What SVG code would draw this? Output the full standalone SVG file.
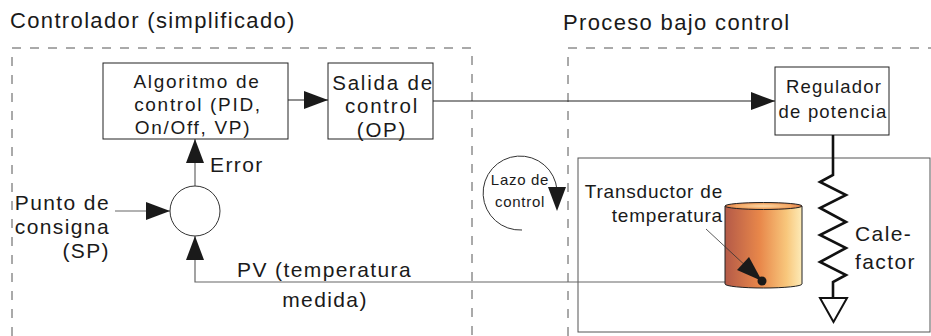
<svg xmlns="http://www.w3.org/2000/svg" width="931" height="336" viewBox="0 0 931 336">
  <defs>
    <style>
      text { font-family: "Liberation Sans", Arial, sans-serif; fill: #1a1a1a; }
      .title { font-size: 22px; letter-spacing: 1.35px; }
      .lbl { font-size: 21px; letter-spacing: 1.4px; }
      .out { font-size: 20.5px; letter-spacing: 1.8px; }
      .alg { font-size: 19px; letter-spacing: 1.7px; }
      .reg { font-size: 18.5px; letter-spacing: 1.2px; }
      .trans { font-size: 19px; letter-spacing: 0.8px; }
      .tiny { font-size: 15px; letter-spacing: 0.7px; }
      .dash { fill: none; stroke: #555; stroke-width: 1; stroke-dasharray: 9 9; }
      .box { fill: #fff; stroke: #222; stroke-width: 1; }
      .wire { fill: none; stroke: #666; stroke-width: 1.2; }
      .wire-dark { fill: none; stroke: #222; stroke-width: 1.2; }
      .heater { fill: none; stroke: #111; stroke-width: 2.6; stroke-linejoin: miter; }
    </style>
    <marker id="arrow" viewBox="0 0 24 18" refX="24" refY="9" markerWidth="24" markerHeight="18" markerUnits="userSpaceOnUse" orient="auto">
      <path d="M0,0 L24,9 L0,18 Z" fill="#1a1a1a"/>
    </marker>
    <linearGradient id="cylBody" x1="0" y1="0" x2="1" y2="0">
      <stop offset="0" stop-color="#b45a48"/>
      <stop offset="0.45" stop-color="#e8874a"/>
      <stop offset="0.8" stop-color="#f8c77c"/>
      <stop offset="1" stop-color="#fdebb8"/>
    </linearGradient>
    <radialGradient id="cylTop" cx="0.5" cy="0.5" r="0.5">
      <stop offset="0" stop-color="#fbd9a8"/>
      <stop offset="0.7" stop-color="#f3a865"/>
      <stop offset="1" stop-color="#de7c48"/>
    </radialGradient>
  </defs>

  <!-- section titles -->
  <text class="title" x="10" y="28">Controlador (simplificado)</text>
  <text class="title" x="563" y="30">Proceso bajo control</text>

  <!-- dashed section frames -->
  <path class="dash" d="M12,336 L12,48 L472,48 L472,336"/>
  <path class="dash" d="M568,336 L568,48 L931,48"/>

  <!-- process enclosure -->
  <rect x="578" y="158" width="352" height="174" fill="none" stroke="#555" stroke-width="1"/>

  <!-- connectors -->
  <g id="connectors">
    <line class="wire-dark" x1="288" y1="100" x2="328" y2="100" marker-end="url(#arrow)"/>
    <line class="wire-dark" x1="433" y1="101" x2="775" y2="101" marker-end="url(#arrow)"/>
    <line class="wire" x1="195" y1="186" x2="195" y2="139" marker-end="url(#arrow)"/>
    <line class="wire" x1="115" y1="211" x2="170" y2="211" marker-end="url(#arrow)"/>
    <polyline class="wire" points="762,282 195,282 195,236" marker-end="url(#arrow)"/>
  </g>

  <!-- controller blocks -->
  <g id="algoritmo">
    <rect class="box" x="103" y="63" width="185" height="76"/>
    <text class="alg" x="197" y="88" text-anchor="middle">Algoritmo de</text>
    <text class="alg" x="198" y="111" text-anchor="middle">control (PID,</text>
    <text class="alg" x="193" y="134" text-anchor="middle">On/Off, VP)</text>
  </g>

  <g id="salida">
    <rect class="box" x="328" y="63" width="105" height="76"/>
    <text class="out" x="383" y="90" text-anchor="middle">Salida de</text>
    <text class="out" x="382" y="113" text-anchor="middle">control</text>
    <text class="out" x="382" y="137" text-anchor="middle">(OP)</text>
  </g>

  <g id="comparador">
    <circle cx="195" cy="211" r="25" fill="#fff" stroke="#333" stroke-width="1"/>
  </g>

  <g id="error">
    <text class="lbl" x="210" y="172">Error</text>
  </g>

  <g id="consigna">
    <text class="lbl" x="110" y="210" text-anchor="end">Punto de</text>
    <text class="lbl" x="110" y="234" text-anchor="end">consigna</text>
    <text class="lbl" x="110" y="258" text-anchor="end">(SP)</text>
  </g>

  <g id="pv">
    <text class="lbl" x="237" y="277">PV (temperatura</text>
    <text class="lbl" x="325" y="307" text-anchor="middle">medida)</text>
  </g>

  <!-- control loop symbol -->
  <g id="lazo">
    <path d="M522,230 A37,37 0 1 1 557,190" fill="none" stroke="#333" stroke-width="1"/>
    <path d="M548,187 L566,187 L557,211 Z" fill="#1a1a1a"/>
    <text class="tiny" x="520" y="185" text-anchor="middle">Lazo de</text>
    <text class="tiny" x="520" y="207" text-anchor="middle">control</text>
  </g>

  <!-- process blocks -->
  <g id="regulador">
    <rect class="box" x="775" y="67" width="114" height="68"/>
    <text class="reg" x="834" y="93" text-anchor="middle">Regulador</text>
    <text class="reg" x="833" y="118" text-anchor="middle">de potencia</text>
  </g>

  <g id="calefactor">
    <polyline class="heater" points="833,135 833,175 820,182 846,195 820,208 846,222 820,235 846,248 820,262 846,275 833,282 833,298"/>
    <path d="M820,298 L847,298 L833.5,322 Z" fill="#fff" stroke="#111" stroke-width="2"/>
    <text class="lbl" x="855" y="241">Cale-</text>
    <text class="lbl" x="855" y="269">factor</text>
  </g>

  <g id="transductor">
    <path d="M725,206 L725,284 A38.5,4 0 0 0 802,284 L802,206 Z" fill="url(#cylBody)" stroke="#222" stroke-width="1"/>
    <ellipse cx="763.5" cy="206" rx="38.5" ry="3.5" fill="url(#cylTop)" stroke="#222" stroke-width="1"/>
    <line x1="706" y1="229" x2="762" y2="281" stroke="#333" stroke-width="0.8"/>
    <path d="M762,281 L737,270 L749,257 Z" fill="#1a1a1a"/>
    <circle cx="762" cy="281" r="4.5" fill="#1a1a1a"/>
    <text class="trans" x="723" y="198" text-anchor="end">Transductor de</text>
    <text class="trans" x="723" y="222" text-anchor="end">temperatura</text>
  </g>
</svg>
